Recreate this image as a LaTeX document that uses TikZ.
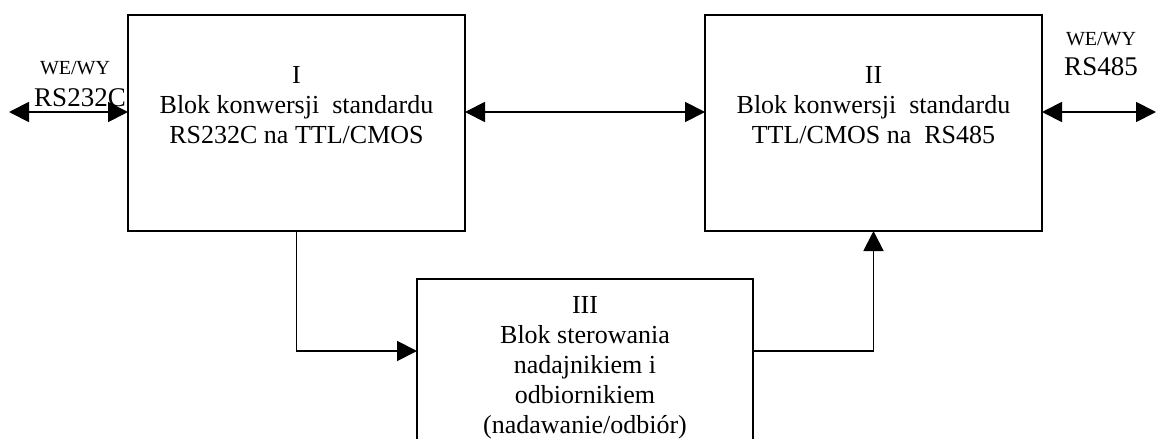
\documentclass[tikz,border=0pt]{standalone}
\usepackage{fontspec}
\setmainfont{Liberation Serif}
\usetikzlibrary{arrows.meta}
\begin{document}
\begin{tikzpicture}[x=1pt,y=-1pt,
  blk/.style={draw, line width=1.9pt, minimum width=337pt, minimum height=216pt, inner sep=0pt, outer sep=0pt},
  lbl/.style={align=center, inner sep=0pt, anchor=north, font=\fontsize{26}{30}\selectfont},
  conn/.style={line width=1.9pt, -{Triangle[length=20pt,width=20pt]}},
  biconn/.style={line width=1.9pt, {Triangle[length=20pt,width=20pt]}-{Triangle[length=20pt,width=20pt]}},
  smalllbl/.style={inner sep=0pt, anchor=base, font=\fontsize{20}{24}\selectfont},
  biglbl/.style={inner sep=0pt, anchor=base, font=\fontsize{27}{30}\selectfont}]
\useasboundingbox (0,0) rectangle (1157,439);
\clip (0,0) rectangle (1157,439);
% blocks
\node[blk] (b1) at (296.5,123) {};
\node[blk] (b2) at (873.5,123) {};
\node[blk, minimum width=336pt, minimum height=200pt] (b3) at (585,379) {};
% block texts
\node[lbl] (t1) at (296.5,66) {I\\Blok konwersji~ standardu\\RS232C na TTL/CMOS};
\node[lbl] (t2) at (873.5,66) {II\\Blok konwersji~ standardu\\TTL/CMOS na~ RS485};
\node[lbl] (t3) at (585,296) {III\\Blok sterowania\\nadajnikiem i\\odbiornikiem\\(nadawanie/odbiór)};
% outer labels
\node[smalllbl] (wl) at (75,74) {WE/WY};
\node[biglbl] (rl) at (80,106) {RS232C};
\node[smalllbl] (wr) at (1101,45) {WE/WY};
\node[biglbl] (rr) at (1101,75) {RS485};
% free ends
\coordinate (lend) at (9,112);
\coordinate (rend) at (1156,112);
% connectors
\draw[biconn] (lend) -- ([yshift=-97pt]b1.north west);
\draw[biconn] ([yshift=-97pt]b1.north east) -- ([yshift=-97pt]b2.north west);
\draw[biconn] ([yshift=-97pt]b2.north east) -- (rend);
\draw[conn] (b1.south) |- ([yshift=-72pt]b3.north west);
\draw[conn] ([yshift=-72pt]b3.north east) -| (b2.south);
\end{tikzpicture}
\end{document}
